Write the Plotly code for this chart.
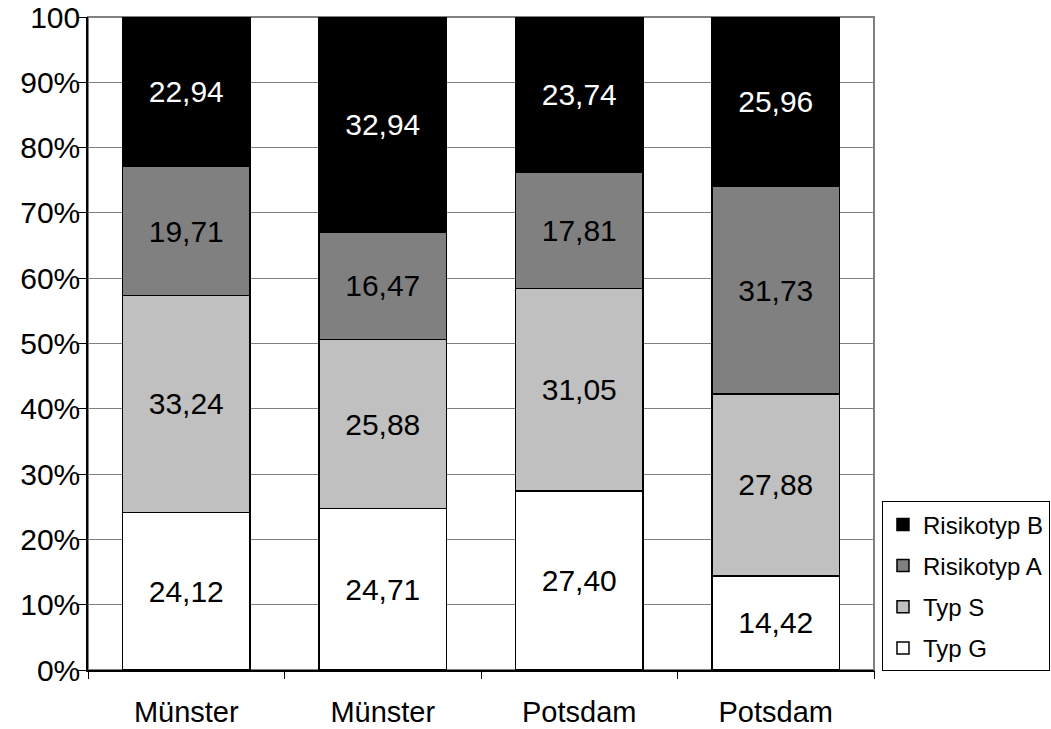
import plotly.graph_objects as go

# Stadt je Säule (Reihenfolge links nach rechts)
categories = ["Münster", "Münster", "Potsdam", "Potsdam"]

# Anteile in Prozent je Typ
typ_g = [24.12, 24.71, 27.40, 14.42]
typ_s = [33.24, 25.88, 31.05, 27.88]
risikotyp_a = [19.71, 16.47, 17.81, 31.73]
risikotyp_b = [22.94, 32.94, 23.74, 25.96]

y_ticks = [0, 10, 20, 30, 40, 50, 60, 70, 80, 90, 100]
y_ticktext = ["0%", "10%", "20%", "30%", "40%", "50%", "60%", "70%", "80%", "90%", "100"]

FONT = "Liberation Sans, Arial, sans-serif"
positions = list(range(len(categories)))

# (Name, Werte, Füllfarbe, Textfarbe, Rang in der Legende)
series = [
    ("Typ G", typ_g, "#ffffff", "#000000", 4),
    ("Typ S", typ_s, "#c0c0c0", "#000000", 3),
    ("Risikotyp A", risikotyp_a, "#808080", "#000000", 2),
    ("Risikotyp B", risikotyp_b, "#000000", "#ffffff", 1),
]

fig = go.Figure()
for name, values, fill, text_color, rank in series:
    fig.add_trace(go.Bar(
        x=positions,
        y=values,
        name=name,
        legendgroup=name,
        legendrank=rank,
        marker=dict(color=fill, line=dict(color="#000000", width=1.5)),
        texttemplate="%{y:.2f}",
        textposition="inside",
        insidetextanchor="middle",
        textangle=0,
        constraintext="none",
        textfont=dict(family=FONT, size=30, color=text_color),
        hoverinfo="skip",
    ))

# Hilfsspur für die Trennstriche zwischen den Kategorien
fig.add_trace(go.Scatter(
    x=[-0.5, 3.5], y=[0, 0], xaxis="x2", yaxis="y",
    mode="markers", marker=dict(opacity=0), showlegend=False, hoverinfo="skip",
))

fig.update_layout(
    width=1051,
    height=729,
    margin=dict(l=88, r=177, t=17, b=59, autoexpand=False),
    paper_bgcolor="#ffffff",
    plot_bgcolor="#ffffff",
    barmode="stack",
    bargap=0.35,
    separators=",.",
    font=dict(family=FONT, size=30, color="#000000"),
    xaxis=dict(
        range=[-0.5, len(categories) - 0.5],
        tickmode="array",
        tickvals=positions,
        ticktext=categories,
        ticks="",
        ticklabelstandoff=15,
        showgrid=False,
        zeroline=False,
        showline=True,
        linecolor="#000000",
        linewidth=1.5,
        automargin=False,
        tickfont=dict(family=FONT, size=29, color="#000000"),
        fixedrange=True,
    ),
    xaxis2=dict(
        overlaying="x",
        matches="x",
        side="bottom",
        tickmode="array",
        tickvals=[p - 0.5 for p in positions] + [len(categories) - 0.5],
        ticks="outside",
        ticklen=8,
        tickcolor="#000000",
        tickwidth=1,
        showticklabels=False,
        showgrid=False,
        zeroline=False,
        showline=False,
        automargin=False,
    ),
    yaxis=dict(
        range=[0, 100],
        tickmode="array",
        tickvals=y_ticks,
        ticktext=y_ticktext,
        ticks="outside",
        ticklen=8,
        ticklabelstandoff=-8,
        tickcolor="#000000",
        showgrid=True,
        gridcolor="#808080",
        gridwidth=1,
        zeroline=False,
        showline=True,
        linecolor="#000000",
        linewidth=1.5,
        automargin=False,
        tickfont=dict(family=FONT, size=30, color="#000000"),
        fixedrange=True,
    ),
    legend=dict(
        x=1.2239,
        xanchor="right",
        y=-0.002,
        yanchor="bottom",
        traceorder="grouped",
        tracegroupgap=7,
        bordercolor="#000000",
        borderwidth=1,
        bgcolor="#ffffff",
        font=dict(family=FONT, size=24, color="#000000"),
        itemwidth=30,
    ),
    shapes=[
        dict(type="rect", xref="paper", yref="paper", x0=0, x1=1, y0=0, y1=1,
             line=dict(color="#808080", width=2), layer="below"),
    ],
)

fig.write_html("out.html")
